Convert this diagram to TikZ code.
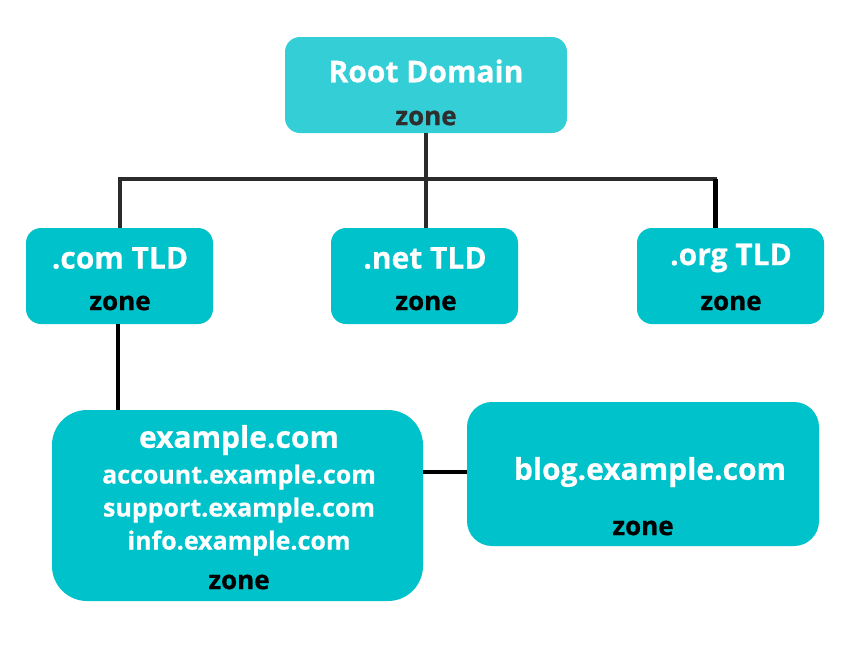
\documentclass[tikz,border=0pt]{standalone}
\usepackage{fontspec}
\setmainfont{Open Sans}[BoldFeatures={FakeBold=0.6}]
\definecolor{rootc}{HTML}{33CED6}
\definecolor{boxc}{HTML}{00C2CB}
\definecolor{linec}{HTML}{2B2B2B}
\definecolor{zonedark}{HTML}{2E2E2E}
\tikzset{
  x=1pt, y=-1pt,
  box/.style={fill=boxc, draw=none, rounded corners=#1},
  box/.default=15pt,
  title/.style={text=white, font=\fontsize{30}{32}\selectfont\bfseries, inner sep=0pt},
  sub/.style={text=white, font=\fontsize{25}{27}\selectfont\bfseries, inner sep=0pt},
  zone/.style={text=black, font=\fontsize{26}{28}\selectfont\bfseries, inner sep=0pt},
  conn/.style={line width=4pt, draw=linec},
}
\begin{document}
\begin{tikzpicture}
\useasboundingbox (0,0) rectangle (853,667);
% boxes
\path[box, fill=rootc] (285,37) rectangle (567,133);
\coordinate (rootB) at (426,133);
\path[box] (26,228) rectangle (213,324);
\path[box] (331,228) rectangle (518,324);
\path[box] (637,228) rectangle (824,324);
\path[box=35pt] (52,410) rectangle (423,601);
\path[box=25pt] (467,402) rectangle (819,546);
% anchors
\coordinate (comT) at (120,228);
\coordinate (netT) at (426,228);
\coordinate (orgT) at (715,228);
\coordinate (comB) at (118,324);
\coordinate (exT) at (118,410);
\coordinate (exR) at (423,472);
\coordinate (blogL) at (467,472);
\coordinate (busL) at (120,179);
\coordinate (busR) at (715,179);
\coordinate (busM) at (426,179);
% connectors
\draw[conn] (rootB) -- (busM);
\draw[conn, line cap=rect] (busL) -- (busR);
\draw[conn] (busL) -- (comT);
\draw[conn] (busM) -- (netT);
\draw[conn, line width=5pt, draw=black] (busR) -- (orgT);
\draw[conn, draw=black] (comB) -- (exT);
\draw[conn, draw=black] (exR) -- (blogL);
% texts
\node[title] (rootT) at (426,71) {Root Domain};
\node[zone, text=zonedark] (rootZ) at (426,118) {zone};
\node[title] (comL) at (120,258) {.com TLD};
\node[zone] (comZ) at (120,303) {zone};
\node[title] (netL) at (425,258) {.net TLD};
\node[zone] (netZ) at (426,303) {zone};
\node[title] (orgL) at (731,258) {.org TLD};
\node[zone] (orgZ) at (731,303) {zone};
\node[title] (ex1) at (239,440) {example.com};
\node[sub] (ex2) at (239,477) {account.example.com};
\node[sub] (ex3) at (239,510) {support.example.com};
\node[sub] (ex4) at (239,543) {info.example.com};
\node[zone] (exZ) at (239,582) {zone};
\node[title] (blogT) at (650,472) {blog.example.com};
\node[zone] (blogZ) at (643,528) {zone};
\end{tikzpicture}
\end{document}
